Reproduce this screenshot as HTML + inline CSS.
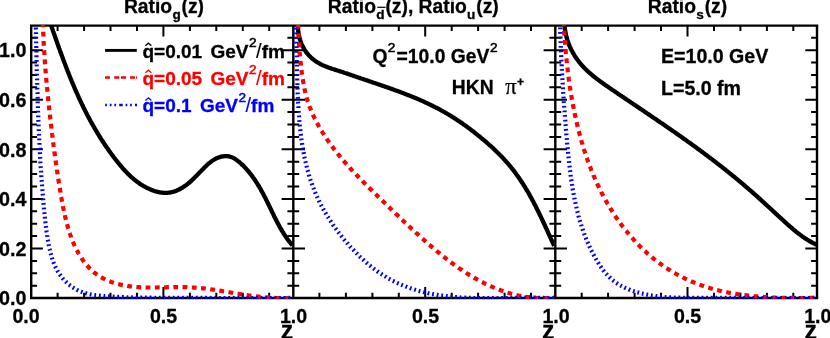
<!DOCTYPE html>
<html><head><meta charset="utf-8"><title>Ratio plots</title>
<style>html,body{margin:0;padding:0;background:#fff}body{width:830px;height:338px;overflow:hidden}svg{display:block;will-change:transform}text{font-family:"Liberation Sans",sans-serif;font-weight:bold;font-size:19.3px;fill:#000;stroke:#000;stroke-width:0.3px}.sy{font-family:"Liberation Serif",serif;font-weight:normal}</style>
</head><body>
<svg width="830" height="338" viewBox="0 0 830 338">
<rect x="0" y="0" width="830" height="338" fill="#fff"/>
<defs>
<clipPath id="cp0"><rect x="30.6" y="25.1" width="261.5" height="273.9"/></clipPath>
<clipPath id="cp1"><rect x="292.7" y="25.1" width="261.4" height="273.9"/></clipPath>
<clipPath id="cp2"><rect x="554.7" y="25.1" width="263.0" height="273.9"/></clipPath>
</defs>
<g stroke="#000" stroke-width="2.4" fill="none" stroke-linecap="butt">
<path d="M30.0 25.6 H818.2 M30.0 298.0 H818.2"/>
<path d="M31.2 25.6 V298.0"/>
<path d="M293.3 25.6 V298.0"/>
<path d="M555.3 25.6 V298.0"/>
<path d="M817.0 25.6 V298.0"/>
</g>
<g stroke="#000" stroke-width="2.0" fill="none">
<path d="M57.6 25.6 v5.3 M57.6 298.0 v-5.3 M84.1 25.6 v5.3 M84.1 298.0 v-5.3 M110.5 25.6 v5.3 M110.5 298.0 v-5.3 M137.0 25.6 v5.3 M137.0 298.0 v-5.3 M163.4 25.6 v11.0 M163.4 298.0 v-11.0 M189.9 25.6 v5.3 M189.9 298.0 v-5.3 M216.3 25.6 v5.3 M216.3 298.0 v-5.3 M242.8 25.6 v5.3 M242.8 298.0 v-5.3 M269.2 25.6 v5.3 M269.2 298.0 v-5.3 M319.4 25.6 v5.3 M319.4 298.0 v-5.3 M345.9 25.6 v5.3 M345.9 298.0 v-5.3 M372.4 25.6 v5.3 M372.4 298.0 v-5.3 M398.8 25.6 v5.3 M398.8 298.0 v-5.3 M425.2 25.6 v11.0 M425.2 298.0 v-11.0 M451.7 25.6 v5.3 M451.7 298.0 v-5.3 M478.1 25.6 v5.3 M478.1 298.0 v-5.3 M504.6 25.6 v5.3 M504.6 298.0 v-5.3 M531.0 25.6 v5.3 M531.0 298.0 v-5.3 M581.7 25.6 v5.3 M581.7 298.0 v-5.3 M608.1 25.6 v5.3 M608.1 298.0 v-5.3 M634.6 25.6 v5.3 M634.6 298.0 v-5.3 M661.0 25.6 v5.3 M661.0 298.0 v-5.3 M687.5 25.6 v11.0 M687.5 298.0 v-11.0 M714.0 25.6 v5.3 M714.0 298.0 v-5.3 M740.4 25.6 v5.3 M740.4 298.0 v-5.3 M766.9 25.6 v5.3 M766.9 298.0 v-5.3 M793.3 25.6 v5.3 M793.3 298.0 v-5.3 M31.2 285.7 h5.9 M287.4 285.7 h11.8 M549.4 285.7 h11.8 M817.0 285.7 h-5.9 M31.2 273.3 h5.9 M287.4 273.3 h11.8 M549.4 273.3 h11.8 M817.0 273.3 h-5.9 M31.2 260.9 h5.9 M287.4 260.9 h11.8 M549.4 260.9 h11.8 M817.0 260.9 h-5.9 M31.2 248.5 h11.7 M281.6 248.5 h23.4 M543.6 248.5 h23.4 M817.0 248.5 h-11.7 M31.2 236.1 h5.9 M287.4 236.1 h11.8 M549.4 236.1 h11.8 M817.0 236.1 h-5.9 M31.2 223.7 h5.9 M287.4 223.7 h11.8 M549.4 223.7 h11.8 M817.0 223.7 h-5.9 M31.2 211.3 h5.9 M287.4 211.3 h11.8 M549.4 211.3 h11.8 M817.0 211.3 h-5.9 M31.2 198.9 h11.7 M281.6 198.9 h23.4 M543.6 198.9 h23.4 M817.0 198.9 h-11.7 M31.2 186.5 h5.9 M287.4 186.5 h11.8 M549.4 186.5 h11.8 M817.0 186.5 h-5.9 M31.2 174.1 h5.9 M287.4 174.1 h11.8 M549.4 174.1 h11.8 M817.0 174.1 h-5.9 M31.2 161.7 h5.9 M287.4 161.7 h11.8 M549.4 161.7 h11.8 M817.0 161.7 h-5.9 M31.2 149.3 h11.7 M281.6 149.3 h23.4 M543.6 149.3 h23.4 M817.0 149.3 h-11.7 M31.2 136.9 h5.9 M287.4 136.9 h11.8 M549.4 136.9 h11.8 M817.0 136.9 h-5.9 M31.2 124.5 h5.9 M287.4 124.5 h11.8 M549.4 124.5 h11.8 M817.0 124.5 h-5.9 M31.2 112.1 h5.9 M287.4 112.1 h11.8 M549.4 112.1 h11.8 M817.0 112.1 h-5.9 M31.2 99.7 h11.7 M281.6 99.7 h23.4 M543.6 99.7 h23.4 M817.0 99.7 h-11.7 M31.2 87.3 h5.9 M287.4 87.3 h11.8 M549.4 87.3 h11.8 M817.0 87.3 h-5.9 M31.2 74.9 h5.9 M287.4 74.9 h11.8 M549.4 74.9 h11.8 M817.0 74.9 h-5.9 M31.2 62.5 h5.9 M287.4 62.5 h11.8 M549.4 62.5 h11.8 M817.0 62.5 h-5.9 M31.2 50.2 h11.7 M281.6 50.2 h23.4 M543.6 50.2 h23.4 M817.0 50.2 h-11.7 M31.2 37.8 h5.9 M287.4 37.8 h11.8 M549.4 37.8 h11.8 M817.0 37.8 h-5.9"/>
</g>
<g clip-path="url(#cp0)" fill="none" stroke-linejoin="round">
<path d="M50.0 22.0 L50.3 23.0 L50.6 23.9 L51.0 24.9 L51.3 25.8 L51.6 26.8 L51.9 27.7 L52.3 28.7 L52.6 29.6 L52.9 30.6 L53.2 31.5 L53.6 32.4 L53.9 33.4 L54.2 34.3 L54.6 35.3 L54.9 36.2 L55.2 37.2 L55.5 38.1 L55.9 39.1 L56.2 40.0 L56.5 41.0 L56.9 41.9 L57.2 42.8 L57.5 43.8 L57.9 44.7 L58.2 45.7 L58.5 46.6 L58.9 47.6 L59.2 48.5 L59.6 49.4 L59.9 50.4 L60.2 51.3 L60.6 52.3 L60.9 53.2 L61.3 54.1 L61.6 55.1 L62.0 56.0 L62.3 57.0 L62.7 57.9 L63.0 58.8 L63.3 59.8 L63.7 60.7 L64.0 61.7 L64.4 62.6 L64.8 63.5 L65.1 64.5 L65.5 65.4 L65.8 66.3 L66.2 67.3 L66.5 68.2 L66.9 69.1 L67.3 70.1 L67.6 71.0 L68.0 71.9 L68.4 72.9 L68.7 73.8 L69.1 74.7 L69.5 75.7 L69.8 76.6 L70.2 77.5 L70.6 78.4 L71.0 79.4 L71.4 80.3 L71.7 81.2 L72.1 82.2 L72.5 83.1 L72.9 84.0 L73.3 84.9 L73.7 85.8 L74.1 86.8 L74.5 87.7 L74.8 88.6 L75.2 89.5 L75.6 90.4 L76.0 91.4 L76.5 92.3 L76.9 93.2 L77.3 94.1 L77.7 95.0 L78.1 95.9 L78.5 96.8 L78.9 97.8 L79.3 98.7 L79.7 99.6 L80.2 100.5 L80.6 101.4 L81.0 102.3 L81.5 103.2 L81.9 104.1 L82.3 105.0 L82.8 105.9 L83.2 106.8 L83.6 107.7 L84.1 108.6 L84.5 109.5 L85.0 110.4 L85.4 111.3 L85.9 112.2 L86.3 113.1 L86.8 114.0 L87.2 114.9 L87.7 115.7 L88.2 116.6 L88.6 117.5 L89.1 118.4 L89.6 119.3 L90.1 120.2 L90.5 121.0 L91.0 121.9 L91.5 122.8 L92.0 123.7 L92.5 124.5 L93.0 125.4 L93.5 126.3 L94.0 127.2 L94.5 128.0 L95.0 128.9 L95.5 129.7 L96.0 130.6 L96.5 131.5 L97.0 132.3 L97.5 133.2 L98.1 134.0 L98.6 134.9 L99.1 135.7 L99.6 136.6 L100.2 137.4 L100.7 138.3 L101.2 139.1 L101.8 140.0 L102.3 140.8 L102.9 141.7 L103.4 142.5 L104.0 143.3 L104.5 144.2 L105.1 145.0 L105.6 145.8 L106.2 146.6 L106.8 147.5 L107.4 148.3 L107.9 149.1 L108.5 149.9 L109.1 150.8 L109.7 151.6 L110.2 152.4 L110.8 153.2 L111.4 154.0 L112.0 154.8 L112.6 155.6 L113.2 156.4 L113.8 157.2 L114.4 158.0 L115.0 158.8 L115.6 159.6 L116.3 160.4 L116.9 161.2 L117.5 162.0 L118.1 162.7 L118.8 163.5 L119.4 164.3 L120.0 165.1 L120.7 165.8 L121.3 166.6 L122.0 167.3 L122.6 168.1 L123.3 168.9 L124.0 169.6 L124.6 170.3 L125.3 171.1 L126.0 171.8 L126.7 172.5 L127.4 173.2 L128.1 173.9 L128.8 174.7 L129.5 175.3 L130.3 176.0 L131.0 176.7 L131.7 177.4 L132.5 178.0 L133.3 178.7 L134.0 179.3 L134.8 180.0 L135.6 180.6 L136.4 181.2 L137.2 181.8 L138.0 182.4 L138.8 183.0 L139.6 183.6 L140.4 184.1 L141.3 184.7 L142.1 185.2 L143.0 185.7 L143.8 186.2 L144.7 186.7 L145.6 187.2 L146.5 187.7 L147.4 188.1 L148.3 188.5 L149.2 188.9 L150.1 189.3 L151.0 189.7 L152.0 190.1 L152.9 190.4 L153.9 190.8 L154.8 191.1 L155.8 191.4 L156.7 191.6 L157.7 191.9 L158.7 192.1 L159.7 192.3 L160.7 192.5 L161.6 192.6 L162.6 192.7 L163.6 192.8 L164.6 192.9 L165.6 192.9 L166.6 192.9 L167.6 192.8 L168.6 192.7 L169.6 192.6 L170.6 192.4 L171.6 192.2 L172.6 192.0 L173.5 191.7 L174.5 191.4 L175.4 191.1 L176.4 190.7 L177.3 190.3 L178.2 189.9 L179.1 189.5 L180.0 189.0 L180.9 188.5 L181.7 188.0 L182.6 187.5 L183.4 187.0 L184.3 186.4 L185.1 185.8 L185.9 185.3 L186.7 184.7 L187.5 184.0 L188.3 183.4 L189.0 182.8 L189.8 182.1 L190.5 181.5 L191.3 180.8 L192.0 180.1 L192.8 179.4 L193.5 178.7 L194.2 178.0 L194.9 177.3 L195.6 176.6 L196.3 175.9 L197.0 175.2 L197.7 174.5 L198.4 173.8 L199.1 173.0 L199.8 172.3 L200.5 171.6 L201.2 170.9 L201.9 170.1 L202.6 169.4 L203.3 168.7 L204.0 168.0 L204.7 167.3 L205.4 166.6 L206.1 165.9 L206.8 165.2 L207.6 164.5 L208.3 163.9 L209.1 163.2 L209.9 162.6 L210.7 162.0 L211.5 161.4 L212.3 160.8 L213.1 160.3 L214.0 159.7 L214.8 159.2 L215.7 158.7 L216.6 158.3 L217.5 157.9 L218.5 157.5 L219.4 157.2 L220.4 156.9 L221.3 156.6 L222.3 156.4 L223.3 156.3 L224.3 156.1 L225.3 156.1 L226.3 156.1 L227.3 156.1 L228.3 156.3 L229.3 156.4 L230.2 156.7 L231.2 157.0 L232.1 157.4 L233.0 157.8 L233.9 158.2 L234.8 158.8 L235.6 159.3 L236.4 159.9 L237.2 160.5 L238.0 161.1 L238.8 161.7 L239.6 162.3 L240.3 163.0 L241.1 163.7 L241.8 164.4 L242.5 165.0 L243.3 165.7 L244.0 166.5 L244.7 167.2 L245.4 167.9 L246.0 168.6 L246.7 169.4 L247.4 170.1 L248.0 170.9 L248.7 171.6 L249.3 172.4 L249.9 173.2 L250.5 174.0 L251.2 174.8 L251.8 175.6 L252.4 176.4 L252.9 177.2 L253.5 178.0 L254.1 178.8 L254.7 179.7 L255.2 180.5 L255.8 181.3 L256.3 182.2 L256.9 183.0 L257.4 183.9 L257.9 184.7 L258.4 185.6 L259.0 186.4 L259.5 187.3 L260.0 188.1 L260.5 189.0 L261.0 189.9 L261.4 190.8 L261.9 191.6 L262.4 192.5 L262.9 193.4 L263.4 194.3 L263.8 195.2 L264.3 196.1 L264.7 196.9 L265.2 197.8 L265.7 198.7 L266.1 199.6 L266.6 200.5 L267.0 201.4 L267.4 202.3 L267.9 203.2 L268.3 204.1 L268.8 205.0 L269.2 205.9 L269.6 206.8 L270.1 207.7 L270.5 208.6 L270.9 209.5 L271.4 210.4 L271.8 211.3 L272.2 212.2 L272.7 213.1 L273.1 214.0 L273.6 214.9 L274.0 215.8 L274.4 216.7 L274.9 217.6 L275.3 218.5 L275.8 219.4 L276.2 220.3 L276.7 221.2 L277.2 222.1 L277.6 223.0 L278.1 223.8 L278.6 224.7 L279.0 225.6 L279.5 226.5 L280.0 227.4 L280.5 228.2 L281.0 229.1 L281.5 230.0 L282.0 230.8 L282.5 231.7 L283.1 232.5 L283.6 233.4 L284.1 234.2 L284.7 235.1 L285.2 235.9 L285.8 236.7 L286.4 237.6 L286.9 238.4 L287.5 239.2 L288.1 240.0 L288.7 240.8 L289.3 241.6 L290.0 242.4 L290.6 243.1 L291.2 243.9 L291.9 244.7 L292.5 245.4" stroke="#000" stroke-width="4.3"/>
<path d="M42.9 22.1 L42.9 23.1 L43.0 24.1 L43.0 25.1 L43.0 26.1 L43.1 27.1 L43.1 28.1 L43.1 29.1 L43.2 30.1 L43.2 31.1 L43.2 32.1 L43.3 33.1 L43.3 34.1 L43.4 35.1 L43.4 36.1 L43.4 37.1 L43.5 38.1 L43.5 39.1 L43.6 40.1 L43.6 41.1 L43.7 42.1 L43.7 43.1 L43.8 44.1 L43.8 45.1 L43.9 46.1 L43.9 47.1 L44.0 48.1 L44.1 49.1 L44.1 50.1 L44.2 51.1 L44.2 52.1 L44.3 53.1 L44.4 54.1 L44.4 55.1 L44.5 56.1 L44.6 57.1 L44.6 58.1 L44.7 59.1 L44.8 60.1 L44.8 61.1 L44.9 62.1 L45.0 63.1 L45.0 64.1 L45.1 65.1 L45.2 66.1 L45.3 67.1 L45.3 68.1 L45.4 69.1 L45.5 70.1 L45.6 71.1 L45.7 72.1 L45.7 73.1 L45.8 74.1 L45.9 75.1 L46.0 76.1 L46.1 77.1 L46.2 78.1 L46.3 79.1 L46.3 80.1 L46.4 81.1 L46.5 82.1 L46.6 83.1 L46.7 84.1 L46.8 85.1 L46.9 86.1 L47.0 87.1 L47.1 88.0 L47.2 89.0 L47.3 90.0 L47.4 91.0 L47.5 92.0 L47.6 93.0 L47.7 94.0 L47.8 95.0 L47.9 96.0 L48.0 97.0 L48.1 98.0 L48.2 99.0 L48.3 100.0 L48.4 101.0 L48.5 102.0 L48.6 103.0 L48.7 104.0 L48.8 105.0 L48.9 106.0 L49.0 107.0 L49.1 108.0 L49.2 109.0 L49.3 110.0 L49.4 111.0 L49.5 112.0 L49.7 113.0 L49.8 114.0 L49.9 114.9 L50.0 115.9 L50.1 116.9 L50.2 117.9 L50.3 118.9 L50.5 119.9 L50.6 120.9 L50.7 121.9 L50.8 122.9 L50.9 123.9 L51.0 124.9 L51.2 125.9 L51.3 126.9 L51.4 127.9 L51.5 128.9 L51.6 129.9 L51.8 130.9 L51.9 131.9 L52.0 132.9 L52.1 133.8 L52.2 134.8 L52.4 135.8 L52.5 136.8 L52.6 137.8 L52.7 138.8 L52.9 139.8 L53.0 140.8 L53.1 141.8 L53.2 142.8 L53.4 143.8 L53.5 144.8 L53.6 145.8 L53.8 146.8 L53.9 147.8 L54.0 148.8 L54.1 149.7 L54.3 150.7 L54.4 151.7 L54.5 152.7 L54.7 153.7 L54.8 154.7 L54.9 155.7 L55.1 156.7 L55.2 157.7 L55.3 158.7 L55.5 159.7 L55.6 160.7 L55.8 161.7 L55.9 162.7 L56.0 163.6 L56.2 164.6 L56.3 165.6 L56.5 166.6 L56.6 167.6 L56.7 168.6 L56.9 169.6 L57.0 170.6 L57.2 171.6 L57.3 172.6 L57.5 173.6 L57.6 174.6 L57.8 175.5 L57.9 176.5 L58.1 177.5 L58.2 178.5 L58.4 179.5 L58.5 180.5 L58.7 181.5 L58.8 182.5 L59.0 183.5 L59.2 184.4 L59.3 185.4 L59.5 186.4 L59.6 187.4 L59.8 188.4 L60.0 189.4 L60.1 190.4 L60.3 191.4 L60.5 192.4 L60.6 193.3 L60.8 194.3 L61.0 195.3 L61.1 196.3 L61.3 197.3 L61.5 198.3 L61.7 199.3 L61.8 200.3 L62.0 201.2 L62.2 202.2 L62.4 203.2 L62.6 204.2 L62.8 205.2 L62.9 206.2 L63.1 207.1 L63.3 208.1 L63.5 209.1 L63.7 210.1 L63.9 211.1 L64.1 212.1 L64.3 213.0 L64.5 214.0 L64.8 215.0 L65.0 216.0 L65.2 216.9 L65.4 217.9 L65.7 218.9 L65.9 219.9 L66.1 220.8 L66.4 221.8 L66.6 222.8 L66.9 223.7 L67.2 224.7 L67.4 225.7 L67.7 226.6 L68.0 227.6 L68.3 228.6 L68.6 229.5 L68.8 230.5 L69.1 231.4 L69.5 232.4 L69.8 233.3 L70.1 234.3 L70.4 235.2 L70.8 236.2 L71.1 237.1 L71.4 238.1 L71.8 239.0 L72.2 239.9 L72.5 240.9 L72.9 241.8 L73.3 242.7 L73.7 243.6 L74.1 244.5 L74.5 245.5 L74.9 246.4 L75.4 247.3 L75.8 248.2 L76.3 249.1 L76.7 250.0 L77.2 250.8 L77.7 251.7 L78.1 252.6 L78.6 253.5 L79.1 254.3 L79.7 255.2 L80.2 256.1 L80.7 256.9 L81.3 257.8 L81.8 258.6 L82.4 259.4 L82.9 260.2 L83.5 261.0 L84.1 261.9 L84.7 262.7 L85.3 263.4 L86.0 264.2 L86.6 265.0 L87.3 265.7 L87.9 266.5 L88.6 267.2 L89.3 268.0 L90.0 268.7 L90.7 269.4 L91.4 270.1 L92.2 270.8 L92.9 271.4 L93.7 272.1 L94.5 272.7 L95.2 273.3 L96.0 273.9 L96.8 274.5 L97.7 275.1 L98.5 275.7 L99.3 276.2 L100.2 276.7 L101.1 277.2 L101.9 277.7 L102.8 278.2 L103.7 278.7 L104.6 279.1 L105.5 279.6 L106.4 280.0 L107.3 280.4 L108.2 280.8 L109.2 281.2 L110.1 281.5 L111.0 281.9 L112.0 282.2 L112.9 282.5 L113.9 282.8 L114.8 283.1 L115.8 283.4 L116.8 283.7 L117.7 284.0 L118.7 284.2 L119.7 284.4 L120.6 284.7 L121.6 284.9 L122.6 285.1 L123.6 285.3 L124.6 285.5 L125.6 285.7 L126.5 285.8 L127.5 286.0 L128.5 286.1 L129.5 286.3 L130.5 286.4 L131.5 286.5 L132.5 286.6 L133.5 286.7 L134.5 286.8 L135.5 286.9 L136.5 287.0 L137.5 287.1 L138.5 287.1 L139.5 287.2 L140.5 287.3 L141.5 287.3 L142.5 287.3 L143.5 287.4 L144.5 287.4 L145.5 287.4 L146.5 287.5 L147.5 287.5 L148.5 287.5 L149.5 287.5 L150.5 287.5 L151.5 287.5 L152.5 287.5 L153.5 287.5 L154.5 287.5 L155.5 287.5 L156.5 287.5 L157.5 287.5 L158.5 287.4 L159.5 287.4 L160.5 287.4 L161.5 287.4 L162.5 287.4 L163.5 287.3 L164.5 287.3 L165.5 287.3 L166.5 287.3 L167.5 287.2 L168.5 287.2 L169.5 287.2 L170.5 287.2 L171.5 287.2 L172.5 287.2 L173.5 287.1 L174.5 287.1 L175.5 287.1 L176.5 287.1 L177.5 287.1 L178.5 287.1 L179.6 287.1 L180.6 287.1 L181.6 287.1 L182.6 287.1 L183.6 287.2 L184.6 287.2 L185.6 287.2 L186.6 287.2 L187.6 287.3 L188.6 287.3 L189.6 287.4 L190.6 287.4 L191.6 287.5 L192.6 287.5 L193.6 287.6 L194.6 287.6 L195.6 287.7 L196.6 287.8 L197.6 287.9 L198.6 288.0 L199.6 288.0 L200.6 288.1 L201.6 288.2 L202.5 288.3 L203.5 288.4 L204.5 288.5 L205.5 288.6 L206.5 288.8 L207.5 288.9 L208.5 289.0 L209.5 289.1 L210.5 289.3 L211.5 289.4 L212.5 289.5 L213.5 289.7 L214.5 289.8 L215.5 290.0 L216.5 290.1 L217.4 290.3 L218.4 290.5 L219.4 290.6 L220.4 290.8 L221.4 290.9 L222.4 291.1 L223.4 291.3 L224.4 291.4 L225.3 291.6 L226.3 291.8 L227.3 292.0 L228.3 292.1 L229.3 292.3 L230.3 292.5 L231.3 292.6 L232.3 292.8 L233.2 293.0 L234.2 293.2 L235.2 293.3 L236.2 293.5 L237.2 293.7 L238.2 293.8 L239.2 294.0 L240.2 294.1 L241.1 294.3 L242.1 294.5 L243.1 294.6 L244.1 294.8 L245.1 294.9 L246.1 295.1 L247.1 295.2 L248.1 295.3 L249.1 295.5 L250.1 295.6 L251.1 295.8 L252.1 295.9 L253.0 296.0 L254.0 296.1 L255.0 296.3 L256.0 296.4 L257.0 296.5 L258.0 296.6 L259.0 296.7 L260.0 296.8 L261.0 296.9 L262.0 297.0 L263.0 297.1 L264.0 297.2 L265.0 297.3 L266.0 297.4 L267.0 297.4 L268.0 297.5 L269.0 297.6 L270.0 297.7 L271.0 297.7 L272.0 297.8 L273.0 297.8 L274.0 297.9 L275.0 297.9 L276.0 298.0 L277.0 298.0 L278.0 298.0 L279.0 298.0 L280.0 298.1 L281.0 298.1 L282.0 298.1 L283.0 298.1 L284.0 298.1 L285.0 298.1 L286.0 298.1 L287.0 298.1 L288.0 298.0 L289.0 298.0 L290.0 298.0 L291.0 297.9 L292.0 297.9 L293.0 297.8 L294.0 297.8" stroke="#ff0000" stroke-width="4.2" stroke-dasharray="4.8 4.45" stroke-dashoffset="-0.4"/>
<path d="M35.8 22.0 L35.8 23.0 L35.8 24.0 L35.9 25.0 L35.9 26.0 L35.9 27.0 L35.9 28.0 L35.9 29.0 L36.0 30.0 L36.0 31.0 L36.0 32.0 L36.0 33.0 L36.0 34.0 L36.1 35.0 L36.1 36.0 L36.1 37.0 L36.1 38.0 L36.1 39.0 L36.2 40.0 L36.2 41.0 L36.2 42.0 L36.2 43.0 L36.2 44.0 L36.3 45.0 L36.3 46.0 L36.3 47.0 L36.3 48.0 L36.4 49.0 L36.4 50.0 L36.4 51.0 L36.4 52.0 L36.4 53.0 L36.5 54.0 L36.5 55.0 L36.5 56.0 L36.5 57.0 L36.5 58.0 L36.6 59.0 L36.6 60.0 L36.6 61.0 L36.6 62.0 L36.7 63.0 L36.7 64.0 L36.7 65.0 L36.7 66.0 L36.8 67.0 L36.8 68.0 L36.8 69.0 L36.8 70.0 L36.9 71.0 L36.9 72.0 L36.9 73.0 L36.9 74.0 L37.0 75.0 L37.0 76.0 L37.0 77.0 L37.0 78.0 L37.1 79.0 L37.1 80.0 L37.1 81.0 L37.1 82.0 L37.2 83.0 L37.2 84.0 L37.2 85.0 L37.3 86.0 L37.3 87.0 L37.3 88.0 L37.3 89.0 L37.4 90.0 L37.4 91.0 L37.4 92.0 L37.5 93.0 L37.5 94.0 L37.5 95.0 L37.5 96.0 L37.6 97.0 L37.6 98.0 L37.6 99.0 L37.7 100.0 L37.7 101.0 L37.7 102.0 L37.8 103.1 L37.8 104.1 L37.8 105.1 L37.9 106.1 L37.9 107.1 L37.9 108.1 L38.0 109.1 L38.0 110.1 L38.0 111.1 L38.1 112.1 L38.1 113.1 L38.2 114.1 L38.2 115.1 L38.2 116.1 L38.3 117.1 L38.3 118.1 L38.3 119.1 L38.4 120.1 L38.4 121.1 L38.5 122.1 L38.5 123.1 L38.5 124.1 L38.6 125.1 L38.6 126.1 L38.7 127.1 L38.7 128.1 L38.8 129.1 L38.8 130.1 L38.8 131.1 L38.9 132.1 L38.9 133.1 L39.0 134.1 L39.0 135.1 L39.1 136.1 L39.1 137.1 L39.2 138.1 L39.2 139.1 L39.3 140.1 L39.3 141.1 L39.4 142.1 L39.4 143.1 L39.5 144.1 L39.5 145.1 L39.6 146.1 L39.6 147.1 L39.7 148.1 L39.7 149.1 L39.8 150.1 L39.8 151.1 L39.9 152.1 L39.9 153.1 L40.0 154.1 L40.0 155.1 L40.1 156.1 L40.1 157.1 L40.2 158.0 L40.3 159.0 L40.3 160.0 L40.4 161.0 L40.4 162.0 L40.5 163.0 L40.6 164.0 L40.6 165.0 L40.7 166.0 L40.7 167.0 L40.8 168.0 L40.9 169.0 L40.9 170.0 L41.0 171.0 L41.1 172.0 L41.1 173.0 L41.2 174.0 L41.3 175.0 L41.3 176.0 L41.4 177.0 L41.5 178.0 L41.5 179.0 L41.6 180.0 L41.7 181.0 L41.8 182.0 L41.8 183.0 L41.9 184.0 L42.0 185.0 L42.1 186.0 L42.1 187.0 L42.2 188.0 L42.3 189.0 L42.4 190.0 L42.5 191.0 L42.5 192.0 L42.6 193.0 L42.7 194.0 L42.8 195.0 L42.9 196.0 L42.9 197.0 L43.0 198.0 L43.1 199.0 L43.2 200.0 L43.3 201.0 L43.4 202.0 L43.5 203.0 L43.6 204.0 L43.7 205.0 L43.7 206.0 L43.8 207.0 L43.9 208.0 L44.0 209.0 L44.1 209.9 L44.2 210.9 L44.3 211.9 L44.4 212.9 L44.5 213.9 L44.6 214.9 L44.7 215.9 L44.8 216.9 L44.9 217.9 L45.0 218.9 L45.2 219.9 L45.3 220.9 L45.4 221.9 L45.5 222.9 L45.6 223.9 L45.7 224.9 L45.9 225.9 L46.0 226.9 L46.1 227.9 L46.2 228.8 L46.4 229.8 L46.5 230.8 L46.6 231.8 L46.8 232.8 L46.9 233.8 L47.1 234.8 L47.2 235.8 L47.4 236.8 L47.5 237.8 L47.7 238.8 L47.9 239.7 L48.0 240.7 L48.2 241.7 L48.4 242.7 L48.6 243.7 L48.7 244.7 L48.9 245.6 L49.1 246.6 L49.3 247.6 L49.5 248.6 L49.8 249.6 L50.0 250.5 L50.2 251.5 L50.4 252.5 L50.7 253.5 L50.9 254.4 L51.2 255.4 L51.5 256.4 L51.8 257.3 L52.1 258.3 L52.4 259.2 L52.7 260.2 L53.0 261.1 L53.4 262.1 L53.7 263.0 L54.1 263.9 L54.5 264.8 L54.9 265.8 L55.3 266.7 L55.7 267.6 L56.2 268.5 L56.6 269.4 L57.1 270.2 L57.6 271.1 L58.1 272.0 L58.7 272.8 L59.2 273.7 L59.8 274.5 L60.3 275.3 L60.9 276.1 L61.5 276.9 L62.2 277.7 L62.8 278.5 L63.4 279.2 L64.1 280.0 L64.8 280.7 L65.5 281.4 L66.2 282.1 L66.9 282.8 L67.7 283.5 L68.4 284.2 L69.2 284.8 L70.0 285.4 L70.8 286.0 L71.6 286.6 L72.4 287.2 L73.2 287.7 L74.1 288.3 L74.9 288.8 L75.8 289.3 L76.7 289.8 L77.6 290.2 L78.5 290.6 L79.4 291.0 L80.3 291.4 L81.3 291.8 L82.2 292.1 L83.1 292.5 L84.1 292.8 L85.1 293.1 L86.0 293.3 L87.0 293.6 L88.0 293.8 L88.9 294.1 L89.9 294.3 L90.9 294.5 L91.9 294.7 L92.9 294.8 L93.8 295.0 L94.8 295.1 L95.8 295.3 L96.8 295.4 L97.8 295.5 L98.8 295.6 L99.8 295.7 L100.8 295.8 L101.8 295.9 L102.8 296.0 L103.8 296.1 L104.8 296.2 L105.8 296.2 L106.8 296.3 L107.8 296.4 L108.8 296.4 L109.8 296.5 L110.8 296.6 L111.8 296.6 L112.8 296.7 L113.8 296.7 L114.8 296.8 L115.8 296.8 L116.8 296.9 L117.8 296.9 L118.8 297.0 L119.8 297.0 L120.8 297.1 L121.8 297.1 L122.8 297.1 L123.8 297.2 L124.8 297.2 L125.8 297.2 L126.8 297.3 L127.8 297.3 L128.8 297.3 L129.8 297.4 L130.8 297.4 L131.8 297.4 L132.8 297.5 L133.8 297.5 L134.8 297.5 L135.8 297.5 L136.8 297.5 L137.8 297.6 L138.8 297.6 L139.8 297.6 L140.8 297.6 L141.8 297.6 L142.8 297.6 L143.8 297.7 L144.8 297.7 L145.8 297.7 L146.8 297.7 L147.8 297.7 L148.8 297.7 L149.8 297.7 L150.8 297.7 L151.8 297.7 L152.8 297.7 L153.8 297.7 L154.8 297.8 L155.8 297.8 L156.8 297.8 L157.8 297.8 L158.8 297.8 L159.8 297.8 L160.8 297.8 L161.8 297.8 L162.8 297.8 L163.8 297.8 L164.8 297.8 L165.8 297.8 L166.8 297.8 L167.8 297.8 L168.8 297.8 L169.8 297.8 L170.8 297.8 L171.8 297.8 L172.8 297.8 L173.8 297.8 L174.8 297.8 L175.8 297.8 L176.8 297.8 L177.8 297.8 L178.8 297.8 L179.8 297.8 L180.8 297.8 L181.8 297.8 L182.8 297.8 L183.8 297.8 L184.8 297.8 L185.8 297.9 L186.8 297.9 L187.8 297.9 L188.8 297.9 L189.8 297.9 L190.8 297.9 L191.8 297.9 L192.8 297.9 L193.8 297.9 L194.8 297.9 L195.8 297.9 L196.8 297.9 L197.8 297.9 L198.9 297.9 L199.9 297.9 L200.9 297.9 L201.9 297.9 L202.9 297.9 L203.9 297.9 L204.9 297.9 L205.9 297.9 L206.9 297.9 L207.9 297.9 L208.9 297.9 L209.9 297.9 L210.9 298.0 L211.9 298.0 L212.9 298.0 L213.9 298.0 L214.9 298.0 L215.9 298.0 L216.9 298.0 L217.9 298.0 L218.9 298.0 L219.9 298.0 L220.9 298.0 L221.9 298.0 L222.9 298.0 L223.9 298.0 L224.9 298.0 L225.9 298.0 L226.9 298.0 L227.9 298.0 L228.9 298.0 L229.9 298.0 L230.9 298.0 L231.9 298.0 L232.9 298.0 L233.9 298.0 L234.9 298.0 L235.9 298.0 L236.9 298.0 L237.9 298.0 L238.9 298.0 L239.9 298.1 L240.9 298.1 L241.9 298.1 L242.9 298.1 L243.9 298.1 L244.9 298.1 L245.9 298.1 L246.9 298.1 L247.9 298.1 L248.9 298.1 L249.9 298.1 L250.9 298.1 L251.9 298.1 L252.9 298.1 L253.9 298.1 L254.9 298.1 L255.9 298.1 L256.9 298.1 L257.9 298.1 L258.9 298.1 L259.9 298.1 L260.9 298.1 L261.9 298.1 L262.9 298.1 L263.9 298.1 L264.9 298.1 L265.9 298.1 L266.9 298.1 L267.9 298.0 L268.9 298.0 L269.9 298.0 L270.9 298.0 L271.9 298.0 L272.9 298.0 L273.9 298.0 L274.9 298.0 L275.9 298.0 L276.9 298.0 L277.9 298.0 L278.9 298.0 L279.9 298.0 L280.9 298.0 L281.9 298.0 L282.9 298.0 L283.9 298.0 L284.9 298.0 L285.9 298.0 L286.9 298.0 L287.9 297.9 L288.9 297.9 L289.9 297.9 L290.9 297.9 L291.9 297.9 L292.9 297.9 L293.9 297.9" stroke="#0000ff" stroke-width="4.2" stroke-dasharray="1.8 2.825" stroke-dashoffset="-1.0"/>
</g>
<g clip-path="url(#cp1)" fill="none" stroke-linejoin="round">
<path d="M297.6 21.7 L297.6 22.7 L297.6 23.7 L297.7 24.7 L297.7 25.7 L297.8 26.7 L297.9 27.7 L298.0 28.7 L298.1 29.7 L298.2 30.7 L298.3 31.7 L298.5 32.7 L298.6 33.7 L298.8 34.7 L299.0 35.7 L299.2 36.6 L299.5 37.6 L299.7 38.6 L300.0 39.6 L300.3 40.5 L300.6 41.5 L301.0 42.4 L301.3 43.3 L301.7 44.3 L302.1 45.2 L302.5 46.1 L303.0 47.0 L303.5 47.9 L304.0 48.7 L304.5 49.6 L305.0 50.4 L305.6 51.3 L306.2 52.1 L306.8 52.9 L307.4 53.7 L308.0 54.4 L308.7 55.2 L309.4 55.9 L310.1 56.6 L310.8 57.3 L311.6 58.0 L312.3 58.7 L313.1 59.3 L313.9 59.9 L314.7 60.5 L315.5 61.1 L316.3 61.7 L317.2 62.2 L318.0 62.7 L318.9 63.2 L319.8 63.7 L320.6 64.2 L321.5 64.6 L322.5 65.1 L323.4 65.5 L324.3 65.9 L325.2 66.3 L326.1 66.6 L327.1 67.0 L328.0 67.4 L329.0 67.7 L329.9 68.0 L330.8 68.4 L331.8 68.7 L332.7 69.0 L333.7 69.3 L334.7 69.6 L335.6 69.9 L336.6 70.2 L337.5 70.5 L338.5 70.8 L339.4 71.1 L340.4 71.4 L341.3 71.7 L342.3 72.0 L343.2 72.3 L344.2 72.7 L345.1 73.0 L346.1 73.3 L347.1 73.6 L348.0 73.9 L348.9 74.3 L349.9 74.6 L350.8 74.9 L351.8 75.2 L352.7 75.5 L353.7 75.9 L354.6 76.2 L355.6 76.5 L356.5 76.9 L357.5 77.2 L358.4 77.5 L359.4 77.8 L360.3 78.2 L361.3 78.5 L362.2 78.8 L363.2 79.1 L364.1 79.5 L365.1 79.8 L366.0 80.1 L367.0 80.4 L367.9 80.7 L368.9 81.1 L369.8 81.4 L370.8 81.7 L371.7 82.0 L372.7 82.4 L373.6 82.7 L374.6 83.0 L375.5 83.3 L376.5 83.6 L377.4 84.0 L378.4 84.3 L379.3 84.6 L380.3 84.9 L381.2 85.3 L382.1 85.6 L383.1 85.9 L384.0 86.2 L385.0 86.6 L385.9 86.9 L386.9 87.2 L387.8 87.6 L388.8 87.9 L389.7 88.2 L390.7 88.6 L391.6 88.9 L392.5 89.2 L393.5 89.6 L394.4 89.9 L395.4 90.3 L396.3 90.6 L397.3 90.9 L398.2 91.3 L399.1 91.6 L400.1 92.0 L401.0 92.3 L402.0 92.7 L402.9 93.0 L403.8 93.4 L404.8 93.8 L405.7 94.1 L406.6 94.5 L407.6 94.9 L408.5 95.2 L409.4 95.6 L410.4 96.0 L411.3 96.3 L412.2 96.7 L413.2 97.1 L414.1 97.5 L415.0 97.9 L415.9 98.2 L416.9 98.6 L417.8 99.0 L418.7 99.4 L419.6 99.8 L420.5 100.2 L421.5 100.6 L422.4 101.0 L423.3 101.4 L424.2 101.8 L425.1 102.3 L426.0 102.7 L426.9 103.1 L427.8 103.5 L428.7 104.0 L429.6 104.4 L430.5 104.8 L431.4 105.3 L432.3 105.7 L433.2 106.2 L434.1 106.6 L435.0 107.1 L435.9 107.5 L436.8 108.0 L437.7 108.4 L438.6 108.9 L439.5 109.4 L440.4 109.9 L441.2 110.3 L442.1 110.8 L443.0 111.3 L443.9 111.8 L444.7 112.3 L445.6 112.8 L446.5 113.3 L447.3 113.8 L448.2 114.3 L449.0 114.9 L449.9 115.4 L450.8 115.9 L451.6 116.4 L452.5 117.0 L453.3 117.5 L454.2 118.0 L455.0 118.6 L455.8 119.1 L456.7 119.7 L457.5 120.2 L458.3 120.8 L459.2 121.3 L460.0 121.9 L460.8 122.5 L461.7 123.0 L462.5 123.6 L463.3 124.2 L464.1 124.8 L464.9 125.3 L465.7 125.9 L466.6 126.5 L467.4 127.1 L468.2 127.7 L469.0 128.3 L469.8 128.9 L470.6 129.5 L471.4 130.1 L472.2 130.7 L473.0 131.3 L473.8 131.9 L474.6 132.6 L475.3 133.2 L476.1 133.8 L476.9 134.4 L477.7 135.1 L478.5 135.7 L479.3 136.3 L480.0 136.9 L480.8 137.6 L481.6 138.2 L482.3 138.9 L483.1 139.5 L483.9 140.1 L484.6 140.8 L485.4 141.4 L486.2 142.1 L486.9 142.8 L487.7 143.4 L488.4 144.1 L489.2 144.7 L489.9 145.4 L490.7 146.1 L491.4 146.8 L492.2 147.4 L492.9 148.1 L493.6 148.8 L494.4 149.5 L495.1 150.2 L495.8 150.9 L496.5 151.6 L497.2 152.3 L498.0 153.0 L498.7 153.7 L499.4 154.4 L500.1 155.1 L500.8 155.8 L501.5 156.5 L502.2 157.3 L502.9 158.0 L503.5 158.7 L504.2 159.5 L504.9 160.2 L505.6 160.9 L506.2 161.7 L506.9 162.4 L507.6 163.2 L508.2 163.9 L508.9 164.7 L509.5 165.5 L510.2 166.2 L510.8 167.0 L511.4 167.8 L512.1 168.6 L512.7 169.4 L513.3 170.2 L513.9 170.9 L514.5 171.7 L515.1 172.5 L515.7 173.4 L516.3 174.2 L516.9 175.0 L517.5 175.8 L518.1 176.6 L518.6 177.4 L519.2 178.2 L519.8 179.1 L520.3 179.9 L520.9 180.7 L521.4 181.6 L522.0 182.4 L522.5 183.3 L523.1 184.1 L523.6 184.9 L524.1 185.8 L524.7 186.6 L525.2 187.5 L525.7 188.4 L526.2 189.2 L526.7 190.1 L527.3 190.9 L527.8 191.8 L528.3 192.7 L528.8 193.5 L529.3 194.4 L529.7 195.3 L530.2 196.2 L530.7 197.0 L531.2 197.9 L531.7 198.8 L532.2 199.7 L532.6 200.6 L533.1 201.4 L533.6 202.3 L534.0 203.2 L534.5 204.1 L535.0 205.0 L535.4 205.9 L535.9 206.8 L536.3 207.7 L536.8 208.6 L537.2 209.5 L537.7 210.4 L538.1 211.3 L538.6 212.2 L539.0 213.1 L539.4 214.0 L539.9 214.9 L540.3 215.8 L540.8 216.7 L541.2 217.6 L541.6 218.5 L542.0 219.4 L542.5 220.3 L542.9 221.2 L543.3 222.1 L543.7 223.0 L544.2 223.9 L544.6 224.8 L545.0 225.7 L545.4 226.7 L545.8 227.6 L546.3 228.5 L546.7 229.4 L547.1 230.3 L547.5 231.2 L547.9 232.1 L548.3 233.0 L548.7 234.0 L549.2 234.9 L549.6 235.8 L550.0 236.7 L550.4 237.6 L550.8 238.5 L551.2 239.4 L551.6 240.3 L552.1 241.3 L552.5 242.2 L552.9 243.1 L553.3 244.0 L553.7 244.9 L554.1 245.8" stroke="#000" stroke-width="4.3"/>
<path d="M298.0 22.0 L298.0 23.0 L298.0 24.0 L298.1 25.0 L298.1 26.1 L298.2 27.1 L298.2 28.1 L298.3 29.1 L298.3 30.1 L298.3 31.1 L298.4 32.1 L298.4 33.1 L298.5 34.1 L298.5 35.1 L298.6 36.1 L298.6 37.1 L298.7 38.1 L298.8 39.1 L298.8 40.1 L298.9 41.1 L298.9 42.1 L299.0 43.1 L299.1 44.1 L299.1 45.1 L299.2 46.1 L299.3 47.1 L299.3 48.1 L299.4 49.1 L299.5 50.1 L299.6 51.1 L299.6 52.1 L299.7 53.0 L299.8 54.0 L299.9 55.0 L300.0 56.0 L300.1 57.0 L300.2 58.0 L300.2 59.0 L300.3 60.0 L300.4 61.0 L300.5 62.0 L300.6 63.0 L300.8 64.0 L300.9 65.0 L301.0 66.0 L301.1 67.0 L301.2 68.0 L301.3 69.0 L301.5 70.0 L301.6 71.0 L301.7 72.0 L301.8 73.0 L302.0 74.0 L302.1 75.0 L302.3 75.9 L302.4 76.9 L302.5 77.9 L302.7 78.9 L302.9 79.9 L303.0 80.9 L303.2 81.9 L303.4 82.9 L303.5 83.9 L303.7 84.8 L303.9 85.8 L304.1 86.8 L304.3 87.8 L304.5 88.8 L304.7 89.8 L304.9 90.7 L305.1 91.7 L305.3 92.7 L305.6 93.7 L305.8 94.6 L306.1 95.6 L306.3 96.6 L306.6 97.5 L306.9 98.5 L307.2 99.5 L307.4 100.4 L307.7 101.4 L308.1 102.3 L308.4 103.3 L308.7 104.2 L309.0 105.2 L309.4 106.1 L309.7 107.1 L310.1 108.0 L310.5 108.9 L310.8 109.8 L311.2 110.8 L311.6 111.7 L312.0 112.6 L312.4 113.5 L312.8 114.4 L313.2 115.4 L313.7 116.3 L314.1 117.2 L314.5 118.1 L315.0 119.0 L315.4 119.9 L315.9 120.8 L316.3 121.6 L316.8 122.5 L317.3 123.4 L317.8 124.3 L318.2 125.2 L318.7 126.0 L319.2 126.9 L319.7 127.8 L320.2 128.6 L320.7 129.5 L321.3 130.4 L321.8 131.2 L322.3 132.1 L322.8 132.9 L323.4 133.8 L323.9 134.6 L324.4 135.5 L325.0 136.3 L325.5 137.1 L326.1 138.0 L326.6 138.8 L327.2 139.6 L327.8 140.5 L328.3 141.3 L328.9 142.1 L329.5 142.9 L330.1 143.7 L330.7 144.6 L331.3 145.4 L331.9 146.2 L332.5 147.0 L333.1 147.8 L333.7 148.6 L334.3 149.4 L334.9 150.2 L335.5 150.9 L336.1 151.7 L336.7 152.5 L337.4 153.3 L338.0 154.1 L338.6 154.9 L339.3 155.6 L339.9 156.4 L340.5 157.2 L341.2 158.0 L341.8 158.7 L342.5 159.5 L343.1 160.2 L343.8 161.0 L344.4 161.8 L345.1 162.5 L345.7 163.3 L346.4 164.0 L347.1 164.8 L347.7 165.5 L348.4 166.3 L349.1 167.0 L349.7 167.8 L350.4 168.5 L351.1 169.2 L351.8 170.0 L352.5 170.7 L353.1 171.4 L353.8 172.2 L354.5 172.9 L355.2 173.6 L355.9 174.4 L356.6 175.1 L357.3 175.8 L358.0 176.5 L358.7 177.3 L359.4 178.0 L360.1 178.7 L360.7 179.4 L361.5 180.1 L362.2 180.8 L362.9 181.6 L363.6 182.3 L364.3 183.0 L365.0 183.7 L365.7 184.4 L366.4 185.1 L367.1 185.8 L367.8 186.5 L368.5 187.2 L369.2 187.9 L369.9 188.6 L370.7 189.3 L371.4 190.0 L372.1 190.7 L372.8 191.4 L373.5 192.1 L374.2 192.8 L374.9 193.5 L375.7 194.2 L376.4 194.9 L377.1 195.6 L377.8 196.3 L378.5 197.0 L379.3 197.7 L380.0 198.4 L380.7 199.1 L381.4 199.8 L382.1 200.5 L382.9 201.2 L383.6 201.9 L384.3 202.6 L385.0 203.3 L385.7 204.0 L386.4 204.7 L387.2 205.4 L387.9 206.1 L388.6 206.8 L389.3 207.5 L390.0 208.2 L390.8 208.9 L391.5 209.6 L392.2 210.3 L392.9 211.0 L393.7 211.7 L394.4 212.4 L395.1 213.1 L395.8 213.8 L396.5 214.4 L397.3 215.1 L398.0 215.8 L398.7 216.5 L399.4 217.2 L400.2 217.9 L400.9 218.6 L401.6 219.3 L402.3 220.0 L403.1 220.7 L403.8 221.4 L404.5 222.0 L405.2 222.7 L406.0 223.4 L406.7 224.1 L407.4 224.8 L408.2 225.5 L408.9 226.2 L409.6 226.9 L410.4 227.5 L411.1 228.2 L411.8 228.9 L412.6 229.6 L413.3 230.3 L414.0 230.9 L414.8 231.6 L415.5 232.3 L416.2 233.0 L417.0 233.7 L417.7 234.3 L418.5 235.0 L419.2 235.7 L419.9 236.4 L420.7 237.0 L421.4 237.7 L422.2 238.4 L422.9 239.0 L423.7 239.7 L424.4 240.4 L425.2 241.1 L425.9 241.7 L426.7 242.4 L427.4 243.0 L428.2 243.7 L428.9 244.4 L429.7 245.0 L430.4 245.7 L431.2 246.3 L431.9 247.0 L432.7 247.6 L433.5 248.3 L434.2 248.9 L435.0 249.6 L435.7 250.2 L436.5 250.9 L437.3 251.5 L438.1 252.2 L438.8 252.8 L439.6 253.4 L440.4 254.1 L441.2 254.7 L441.9 255.3 L442.7 256.0 L443.5 256.6 L444.3 257.2 L445.1 257.8 L445.9 258.5 L446.6 259.1 L447.4 259.7 L448.2 260.3 L449.0 260.9 L449.8 261.5 L450.6 262.1 L451.4 262.7 L452.2 263.3 L453.0 263.9 L453.8 264.5 L454.7 265.1 L455.5 265.7 L456.3 266.2 L457.1 266.8 L457.9 267.4 L458.7 268.0 L459.6 268.5 L460.4 269.1 L461.2 269.7 L462.1 270.2 L462.9 270.8 L463.7 271.3 L464.6 271.9 L465.4 272.4 L466.2 273.0 L467.1 273.5 L467.9 274.0 L468.8 274.6 L469.6 275.1 L470.5 275.6 L471.4 276.1 L472.2 276.6 L473.1 277.1 L474.0 277.6 L474.8 278.1 L475.7 278.6 L476.6 279.1 L477.4 279.6 L478.3 280.1 L479.2 280.6 L480.1 281.0 L481.0 281.5 L481.9 282.0 L482.8 282.4 L483.6 282.9 L484.5 283.3 L485.4 283.8 L486.3 284.2 L487.2 284.6 L488.2 285.1 L489.1 285.5 L490.0 285.9 L490.9 286.3 L491.8 286.7 L492.7 287.1 L493.6 287.5 L494.6 287.9 L495.5 288.3 L496.4 288.7 L497.4 289.0 L498.3 289.4 L499.2 289.7 L500.2 290.1 L501.1 290.4 L502.0 290.8 L503.0 291.1 L503.9 291.4 L504.9 291.8 L505.8 292.1 L506.8 292.4 L507.8 292.7 L508.7 293.0 L509.7 293.2 L510.6 293.5 L511.6 293.8 L512.6 294.0 L513.5 294.3 L514.5 294.5 L515.5 294.8 L516.5 295.0 L517.4 295.2 L518.4 295.5 L519.4 295.7 L520.4 295.9 L521.4 296.1 L522.3 296.2 L523.3 296.4 L524.3 296.6 L525.3 296.8 L526.3 296.9 L527.3 297.0 L528.3 297.2 L529.3 297.3 L530.3 297.4 L531.3 297.5 L532.3 297.6 L533.3 297.7 L534.3 297.8 L535.3 297.9 L536.3 298.0 L537.3 298.0 L538.3 298.1 L539.3 298.1 L540.3 298.1 L541.3 298.2 L542.3 298.2 L543.3 298.2 L544.3 298.2 L545.3 298.2 L546.3 298.1 L547.3 298.1 L548.3 298.1 L549.3 298.0 L550.3 298.0 L551.3 297.9 L552.3 297.8 L553.3 297.7 L554.3 297.6 L555.3 297.5 L556.3 297.4" stroke="#ff0000" stroke-width="4.2" stroke-dasharray="4.8 4.45" stroke-dashoffset="-2.0"/>
<path d="M295.2 22.0 L295.2 23.0 L295.3 24.0 L295.4 25.0 L295.4 26.0 L295.5 27.0 L295.5 28.0 L295.6 29.0 L295.7 30.0 L295.7 31.0 L295.8 32.0 L295.8 33.0 L295.9 34.0 L295.9 35.0 L296.0 36.0 L296.0 37.0 L296.0 38.0 L296.1 39.0 L296.1 40.0 L296.2 41.0 L296.2 42.0 L296.2 43.0 L296.3 44.0 L296.3 45.0 L296.4 46.0 L296.4 47.0 L296.4 48.0 L296.5 49.0 L296.5 50.0 L296.5 51.0 L296.5 52.0 L296.6 53.0 L296.6 54.0 L296.6 55.0 L296.7 56.0 L296.7 57.0 L296.7 58.0 L296.7 59.0 L296.8 60.1 L296.8 61.1 L296.8 62.1 L296.8 63.1 L296.9 64.1 L296.9 65.1 L296.9 66.1 L296.9 67.1 L297.0 68.1 L297.0 69.1 L297.0 70.1 L297.0 71.1 L297.1 72.1 L297.1 73.1 L297.1 74.1 L297.1 75.1 L297.2 76.1 L297.2 77.1 L297.2 78.1 L297.2 79.1 L297.3 80.1 L297.3 81.1 L297.3 82.1 L297.4 83.1 L297.4 84.1 L297.4 85.1 L297.4 86.1 L297.5 87.1 L297.5 88.1 L297.5 89.1 L297.6 90.1 L297.6 91.1 L297.7 92.1 L297.7 93.1 L297.7 94.1 L297.8 95.1 L297.8 96.1 L297.9 97.1 L297.9 98.1 L297.9 99.1 L298.0 100.1 L298.0 101.1 L298.1 102.1 L298.1 103.1 L298.2 104.1 L298.3 105.1 L298.3 106.1 L298.4 107.1 L298.4 108.1 L298.5 109.1 L298.6 110.1 L298.6 111.1 L298.7 112.1 L298.8 113.1 L298.8 114.1 L298.9 115.1 L299.0 116.1 L299.1 117.1 L299.1 118.1 L299.2 119.1 L299.3 120.1 L299.4 121.1 L299.5 122.1 L299.6 123.1 L299.7 124.1 L299.8 125.1 L299.9 126.1 L300.0 127.1 L300.1 128.1 L300.2 129.1 L300.3 130.1 L300.4 131.1 L300.5 132.1 L300.6 133.1 L300.8 134.1 L300.9 135.1 L301.0 136.0 L301.1 137.0 L301.3 138.0 L301.4 139.0 L301.5 140.0 L301.7 141.0 L301.8 142.0 L302.0 143.0 L302.1 144.0 L302.3 145.0 L302.4 146.0 L302.6 146.9 L302.8 147.9 L302.9 148.9 L303.1 149.9 L303.3 150.9 L303.5 151.9 L303.7 152.9 L303.8 153.9 L304.0 154.8 L304.2 155.8 L304.4 156.8 L304.6 157.8 L304.8 158.8 L305.1 159.7 L305.3 160.7 L305.5 161.7 L305.7 162.7 L305.9 163.6 L306.2 164.6 L306.4 165.6 L306.7 166.6 L306.9 167.5 L307.2 168.5 L307.4 169.5 L307.7 170.4 L307.9 171.4 L308.2 172.4 L308.5 173.3 L308.8 174.3 L309.0 175.3 L309.3 176.2 L309.6 177.2 L309.9 178.1 L310.2 179.1 L310.5 180.0 L310.9 181.0 L311.2 181.9 L311.5 182.9 L311.8 183.8 L312.2 184.8 L312.5 185.7 L312.9 186.7 L313.2 187.6 L313.6 188.5 L313.9 189.5 L314.3 190.4 L314.7 191.3 L315.1 192.3 L315.4 193.2 L315.8 194.1 L316.2 195.0 L316.6 195.9 L317.1 196.9 L317.5 197.8 L317.9 198.7 L318.3 199.6 L318.8 200.5 L319.2 201.4 L319.6 202.3 L320.1 203.2 L320.5 204.1 L321.0 205.0 L321.5 205.9 L321.9 206.7 L322.4 207.6 L322.9 208.5 L323.4 209.4 L323.9 210.2 L324.4 211.1 L324.9 212.0 L325.4 212.8 L325.9 213.7 L326.4 214.6 L326.9 215.4 L327.4 216.3 L328.0 217.1 L328.5 218.0 L329.0 218.8 L329.6 219.7 L330.1 220.5 L330.7 221.3 L331.2 222.2 L331.8 223.0 L332.4 223.8 L332.9 224.7 L333.5 225.5 L334.1 226.3 L334.7 227.1 L335.2 227.9 L335.8 228.7 L336.4 229.6 L337.0 230.4 L337.6 231.2 L338.2 232.0 L338.8 232.8 L339.4 233.6 L340.0 234.4 L340.7 235.1 L341.3 235.9 L341.9 236.7 L342.5 237.5 L343.2 238.3 L343.8 239.0 L344.4 239.8 L345.1 240.6 L345.7 241.4 L346.4 242.1 L347.0 242.9 L347.7 243.6 L348.3 244.4 L349.0 245.2 L349.7 245.9 L350.3 246.7 L351.0 247.4 L351.7 248.1 L352.3 248.9 L353.0 249.6 L353.7 250.3 L354.4 251.1 L355.1 251.8 L355.8 252.5 L356.5 253.2 L357.2 253.9 L357.9 254.7 L358.6 255.4 L359.3 256.1 L360.0 256.8 L360.8 257.5 L361.5 258.2 L362.2 258.8 L363.0 259.5 L363.7 260.2 L364.4 260.9 L365.2 261.5 L365.9 262.2 L366.7 262.9 L367.4 263.5 L368.2 264.2 L369.0 264.8 L369.7 265.5 L370.5 266.1 L371.3 266.7 L372.1 267.3 L372.9 268.0 L373.7 268.6 L374.5 269.2 L375.3 269.8 L376.1 270.4 L376.9 271.0 L377.7 271.6 L378.5 272.1 L379.3 272.7 L380.2 273.3 L381.0 273.8 L381.8 274.4 L382.7 274.9 L383.5 275.5 L384.4 276.0 L385.2 276.5 L386.1 277.0 L386.9 277.6 L387.8 278.1 L388.7 278.6 L389.5 279.0 L390.4 279.5 L391.3 280.0 L392.2 280.5 L393.1 280.9 L394.0 281.4 L394.9 281.8 L395.8 282.2 L396.7 282.7 L397.6 283.1 L398.5 283.5 L399.4 283.9 L400.3 284.3 L401.3 284.7 L402.2 285.1 L403.1 285.5 L404.0 285.8 L405.0 286.2 L405.9 286.6 L406.9 286.9 L407.8 287.3 L408.7 287.6 L409.7 287.9 L410.6 288.3 L411.6 288.6 L412.5 288.9 L413.5 289.2 L414.4 289.5 L415.4 289.8 L416.4 290.1 L417.3 290.4 L418.3 290.6 L419.3 290.9 L420.2 291.2 L421.2 291.4 L422.2 291.7 L423.1 291.9 L424.1 292.2 L425.1 292.4 L426.1 292.6 L427.0 292.8 L428.0 293.1 L429.0 293.3 L430.0 293.5 L430.9 293.7 L431.9 293.9 L432.9 294.1 L433.9 294.2 L434.9 294.4 L435.9 294.6 L436.9 294.8 L437.8 294.9 L438.8 295.1 L439.8 295.2 L440.8 295.4 L441.8 295.5 L442.8 295.7 L443.8 295.8 L444.8 295.9 L445.8 296.1 L446.8 296.2 L447.8 296.3 L448.8 296.4 L449.8 296.5 L450.8 296.6 L451.8 296.7 L452.8 296.8 L453.8 296.9 L454.7 297.0 L455.7 297.1 L456.7 297.2 L457.7 297.3 L458.7 297.3 L459.7 297.4 L460.7 297.5 L461.7 297.5 L462.7 297.6 L463.7 297.6 L464.7 297.7 L465.7 297.7 L466.7 297.8 L467.7 297.8 L468.7 297.9 L469.8 297.9 L470.8 297.9 L471.8 298.0 L472.8 298.0 L473.8 298.0 L474.8 298.1 L475.8 298.1 L476.8 298.1 L477.8 298.1 L478.8 298.1 L479.8 298.2 L480.8 298.2 L481.8 298.2 L482.8 298.2 L483.8 298.2 L484.8 298.2 L485.8 298.2 L486.8 298.2 L487.8 298.2 L488.8 298.2 L489.8 298.2 L490.8 298.2 L491.8 298.2 L492.8 298.2 L493.8 298.2 L494.8 298.1 L495.8 298.1 L496.8 298.1 L497.8 298.1 L498.8 298.1 L499.8 298.1 L500.8 298.1 L501.8 298.1 L502.8 298.0 L503.8 298.0 L504.8 298.0 L505.8 298.0 L506.8 298.0 L507.8 298.0 L508.8 297.9 L509.8 297.9 L510.8 297.9 L511.8 297.9 L512.8 297.9 L513.8 297.9 L514.8 297.8 L515.8 297.8 L516.8 297.8 L517.8 297.8 L518.8 297.8 L519.8 297.8 L520.8 297.8 L521.8 297.8 L522.8 297.7 L523.9 297.7 L524.9 297.7 L525.9 297.7 L526.9 297.7 L527.9 297.7 L528.9 297.7 L529.9 297.7 L530.9 297.7 L531.9 297.7 L532.9 297.7 L533.9 297.7 L534.9 297.7 L535.9 297.8 L536.9 297.8 L537.9 297.8 L538.9 297.8 L539.9 297.8 L540.9 297.8 L541.9 297.9 L542.9 297.9 L543.9 297.9 L544.9 298.0 L545.9 298.0 L546.9 298.0 L547.9 298.1 L548.9 298.1 L549.9 298.2 L550.9 298.2 L551.9 298.3 L552.9 298.3 L553.9 298.4 L554.9 298.4 L555.9 298.5" stroke="#0000ff" stroke-width="4.2" stroke-dasharray="1.8 2.825" stroke-dashoffset="-1.2"/>
</g>
<g clip-path="url(#cp2)" fill="none" stroke-linejoin="round">
<path d="M564.3 21.5 L564.4 22.5 L564.4 23.5 L564.5 24.5 L564.5 25.5 L564.6 26.5 L564.7 27.5 L564.8 28.5 L565.0 29.5 L565.1 30.5 L565.3 31.5 L565.5 32.5 L565.7 33.5 L565.9 34.4 L566.1 35.4 L566.3 36.4 L566.6 37.3 L566.8 38.3 L567.1 39.3 L567.4 40.2 L567.7 41.2 L568.1 42.1 L568.4 43.1 L568.8 44.0 L569.1 44.9 L569.5 45.9 L569.9 46.8 L570.3 47.7 L570.7 48.6 L571.2 49.5 L571.6 50.4 L572.1 51.3 L572.6 52.2 L573.1 53.0 L573.6 53.9 L574.1 54.7 L574.6 55.6 L575.1 56.4 L575.7 57.3 L576.3 58.1 L576.8 58.9 L577.4 59.7 L578.0 60.5 L578.6 61.3 L579.2 62.1 L579.9 62.9 L580.5 63.7 L581.2 64.4 L581.8 65.2 L582.5 65.9 L583.2 66.7 L583.8 67.4 L584.5 68.1 L585.2 68.8 L586.0 69.5 L586.7 70.2 L587.4 70.9 L588.1 71.6 L588.9 72.3 L589.6 72.9 L590.4 73.6 L591.1 74.2 L591.9 74.9 L592.7 75.5 L593.4 76.2 L594.2 76.8 L595.0 77.4 L595.8 78.0 L596.6 78.6 L597.4 79.3 L598.2 79.9 L599.0 80.5 L599.8 81.1 L600.6 81.6 L601.4 82.2 L602.2 82.8 L603.0 83.4 L603.8 84.0 L604.6 84.6 L605.5 85.1 L606.3 85.7 L607.1 86.3 L607.9 86.8 L608.8 87.4 L609.6 88.0 L610.4 88.5 L611.2 89.1 L612.1 89.7 L612.9 90.2 L613.7 90.8 L614.5 91.3 L615.4 91.9 L616.2 92.5 L617.0 93.0 L617.9 93.6 L618.7 94.2 L619.5 94.7 L620.3 95.3 L621.2 95.8 L622.0 96.4 L622.8 97.0 L623.7 97.5 L624.5 98.1 L625.3 98.6 L626.2 99.2 L627.0 99.8 L627.8 100.3 L628.6 100.9 L629.5 101.4 L630.3 102.0 L631.1 102.6 L632.0 103.1 L632.8 103.7 L633.6 104.2 L634.4 104.8 L635.3 105.3 L636.1 105.9 L636.9 106.5 L637.8 107.0 L638.6 107.6 L639.4 108.1 L640.3 108.7 L641.1 109.3 L641.9 109.8 L642.7 110.4 L643.6 110.9 L644.4 111.5 L645.2 112.1 L646.1 112.6 L646.9 113.2 L647.7 113.7 L648.5 114.3 L649.4 114.9 L650.2 115.4 L651.0 116.0 L651.9 116.6 L652.7 117.1 L653.5 117.7 L654.3 118.2 L655.2 118.8 L656.0 119.4 L656.8 119.9 L657.6 120.5 L658.5 121.1 L659.3 121.6 L660.1 122.2 L661.0 122.8 L661.8 123.3 L662.6 123.9 L663.4 124.4 L664.3 125.0 L665.1 125.6 L665.9 126.1 L666.7 126.7 L667.5 127.3 L668.4 127.9 L669.2 128.4 L670.0 129.0 L670.8 129.6 L671.7 130.1 L672.5 130.7 L673.3 131.3 L674.1 131.8 L674.9 132.4 L675.8 133.0 L676.6 133.6 L677.4 134.1 L678.2 134.7 L679.0 135.3 L679.9 135.9 L680.7 136.4 L681.5 137.0 L682.3 137.6 L683.1 138.2 L683.9 138.8 L684.8 139.3 L685.6 139.9 L686.4 140.5 L687.2 141.1 L688.0 141.7 L688.8 142.2 L689.6 142.8 L690.5 143.4 L691.3 144.0 L692.1 144.6 L692.9 145.2 L693.7 145.8 L694.5 146.3 L695.3 146.9 L696.1 147.5 L696.9 148.1 L697.7 148.7 L698.5 149.3 L699.3 149.9 L700.2 150.5 L701.0 151.1 L701.8 151.7 L702.6 152.3 L703.4 152.9 L704.2 153.5 L705.0 154.1 L705.8 154.7 L706.6 155.3 L707.4 155.9 L708.2 156.5 L709.0 157.1 L709.8 157.7 L710.6 158.3 L711.4 158.9 L712.2 159.5 L713.0 160.1 L713.8 160.7 L714.5 161.3 L715.3 161.9 L716.1 162.5 L716.9 163.1 L717.7 163.8 L718.5 164.4 L719.3 165.0 L720.1 165.6 L720.9 166.2 L721.7 166.8 L722.5 167.4 L723.2 168.1 L724.0 168.7 L724.8 169.3 L725.6 169.9 L726.4 170.6 L727.2 171.2 L727.9 171.8 L728.7 172.4 L729.5 173.1 L730.3 173.7 L731.1 174.3 L731.8 174.9 L732.6 175.6 L733.4 176.2 L734.2 176.8 L734.9 177.5 L735.7 178.1 L736.5 178.7 L737.2 179.4 L738.0 180.0 L738.8 180.7 L739.6 181.3 L740.3 181.9 L741.1 182.6 L741.9 183.2 L742.6 183.9 L743.4 184.5 L744.1 185.2 L744.9 185.8 L745.7 186.5 L746.4 187.1 L747.2 187.8 L747.9 188.4 L748.7 189.1 L749.5 189.7 L750.2 190.4 L751.0 191.0 L751.7 191.7 L752.5 192.4 L753.2 193.0 L754.0 193.7 L754.7 194.4 L755.5 195.0 L756.2 195.7 L757.0 196.4 L757.7 197.0 L758.4 197.7 L759.2 198.4 L759.9 199.0 L760.7 199.7 L761.4 200.4 L762.2 201.1 L762.9 201.7 L763.6 202.4 L764.4 203.1 L765.1 203.8 L765.8 204.4 L766.6 205.1 L767.3 205.8 L768.1 206.5 L768.8 207.1 L769.5 207.8 L770.3 208.5 L771.0 209.2 L771.7 209.8 L772.5 210.5 L773.2 211.2 L773.9 211.9 L774.7 212.6 L775.4 213.2 L776.1 213.9 L776.9 214.6 L777.6 215.3 L778.4 216.0 L779.1 216.6 L779.8 217.3 L780.6 218.0 L781.3 218.7 L782.0 219.3 L782.8 220.0 L783.5 220.7 L784.3 221.4 L785.0 222.0 L785.7 222.7 L786.5 223.4 L787.2 224.1 L788.0 224.7 L788.7 225.4 L789.5 226.1 L790.2 226.7 L791.0 227.4 L791.7 228.0 L792.5 228.7 L793.2 229.3 L794.0 230.0 L794.8 230.6 L795.5 231.3 L796.3 231.9 L797.1 232.5 L797.9 233.1 L798.7 233.7 L799.5 234.3 L800.3 234.9 L801.1 235.5 L801.9 236.1 L802.7 236.7 L803.5 237.3 L804.3 237.8 L805.2 238.4 L806.0 238.9 L806.9 239.5 L807.7 240.0 L808.6 240.5 L809.4 241.0 L810.3 241.5 L811.2 242.0 L812.1 242.5 L812.9 243.0 L813.8 243.4 L814.7 243.8 L815.6 244.3 L816.6 244.7 L817.5 245.1" stroke="#000" stroke-width="4.3"/>
<path d="M563.7 22.5 L563.7 23.5 L563.8 24.5 L563.8 25.5 L563.9 26.5 L564.0 27.5 L564.0 28.5 L564.1 29.5 L564.1 30.5 L564.2 31.5 L564.3 32.5 L564.3 33.5 L564.4 34.5 L564.5 35.5 L564.5 36.5 L564.6 37.5 L564.7 38.5 L564.8 39.5 L564.8 40.5 L564.9 41.5 L565.0 42.5 L565.1 43.5 L565.1 44.5 L565.2 45.5 L565.3 46.4 L565.4 47.4 L565.5 48.4 L565.6 49.4 L565.6 50.4 L565.7 51.4 L565.8 52.4 L565.9 53.4 L566.0 54.4 L566.1 55.4 L566.2 56.4 L566.3 57.4 L566.4 58.4 L566.5 59.4 L566.6 60.4 L566.7 61.4 L566.8 62.4 L566.9 63.4 L567.0 64.4 L567.1 65.4 L567.2 66.4 L567.4 67.4 L567.5 68.4 L567.6 69.4 L567.7 70.4 L567.8 71.4 L567.9 72.4 L568.1 73.4 L568.2 74.4 L568.3 75.4 L568.5 76.3 L568.6 77.3 L568.7 78.3 L568.8 79.3 L569.0 80.3 L569.1 81.3 L569.3 82.3 L569.4 83.3 L569.5 84.3 L569.7 85.3 L569.8 86.3 L570.0 87.3 L570.1 88.3 L570.3 89.2 L570.4 90.2 L570.6 91.2 L570.8 92.2 L570.9 93.2 L571.1 94.2 L571.2 95.2 L571.4 96.2 L571.6 97.2 L571.7 98.2 L571.9 99.1 L572.1 100.1 L572.3 101.1 L572.4 102.1 L572.6 103.1 L572.8 104.1 L573.0 105.1 L573.2 106.0 L573.4 107.0 L573.6 108.0 L573.8 109.0 L574.0 110.0 L574.2 111.0 L574.4 111.9 L574.6 112.9 L574.8 113.9 L575.0 114.9 L575.2 115.9 L575.4 116.8 L575.6 117.8 L575.8 118.8 L576.0 119.8 L576.3 120.8 L576.5 121.7 L576.7 122.7 L576.9 123.7 L577.2 124.7 L577.4 125.6 L577.6 126.6 L577.9 127.6 L578.1 128.6 L578.4 129.5 L578.6 130.5 L578.9 131.5 L579.1 132.4 L579.4 133.4 L579.6 134.4 L579.9 135.3 L580.2 136.3 L580.4 137.3 L580.7 138.2 L581.0 139.2 L581.2 140.2 L581.5 141.1 L581.8 142.1 L582.1 143.1 L582.4 144.0 L582.6 145.0 L582.9 145.9 L583.2 146.9 L583.5 147.9 L583.8 148.8 L584.1 149.8 L584.4 150.7 L584.7 151.7 L585.0 152.6 L585.4 153.6 L585.7 154.5 L586.0 155.5 L586.3 156.4 L586.6 157.4 L587.0 158.3 L587.3 159.3 L587.6 160.2 L588.0 161.2 L588.3 162.1 L588.7 163.0 L589.0 164.0 L589.4 164.9 L589.7 165.9 L590.1 166.8 L590.4 167.7 L590.8 168.7 L591.2 169.6 L591.5 170.5 L591.9 171.5 L592.3 172.4 L592.7 173.3 L593.1 174.2 L593.4 175.2 L593.8 176.1 L594.2 177.0 L594.6 177.9 L595.0 178.8 L595.4 179.8 L595.8 180.7 L596.2 181.6 L596.7 182.5 L597.1 183.4 L597.5 184.3 L597.9 185.2 L598.4 186.1 L598.8 187.0 L599.2 187.9 L599.7 188.9 L600.1 189.7 L600.5 190.6 L601.0 191.5 L601.4 192.4 L601.9 193.3 L602.4 194.2 L602.8 195.1 L603.3 196.0 L603.8 196.9 L604.2 197.8 L604.7 198.6 L605.2 199.5 L605.7 200.4 L606.2 201.3 L606.7 202.1 L607.2 203.0 L607.7 203.9 L608.2 204.7 L608.7 205.6 L609.2 206.5 L609.7 207.3 L610.2 208.2 L610.8 209.0 L611.3 209.9 L611.8 210.7 L612.4 211.6 L612.9 212.4 L613.4 213.3 L614.0 214.1 L614.5 215.0 L615.1 215.8 L615.6 216.6 L616.2 217.5 L616.8 218.3 L617.3 219.1 L617.9 219.9 L618.5 220.7 L619.1 221.6 L619.7 222.4 L620.2 223.2 L620.8 224.0 L621.4 224.8 L622.0 225.6 L622.6 226.4 L623.3 227.2 L623.9 228.0 L624.5 228.8 L625.1 229.6 L625.7 230.4 L626.4 231.1 L627.0 231.9 L627.6 232.7 L628.3 233.5 L628.9 234.2 L629.5 235.0 L630.2 235.8 L630.8 236.5 L631.5 237.3 L632.2 238.0 L632.8 238.8 L633.5 239.5 L634.2 240.3 L634.9 241.0 L635.5 241.7 L636.2 242.5 L636.9 243.2 L637.6 243.9 L638.3 244.6 L639.0 245.4 L639.7 246.1 L640.4 246.8 L641.1 247.5 L641.8 248.2 L642.6 248.9 L643.3 249.6 L644.0 250.3 L644.7 251.0 L645.5 251.6 L646.2 252.3 L647.0 253.0 L647.7 253.7 L648.5 254.3 L649.2 255.0 L650.0 255.6 L650.7 256.3 L651.5 256.9 L652.3 257.6 L653.0 258.2 L653.8 258.9 L654.6 259.5 L655.4 260.1 L656.2 260.7 L657.0 261.3 L657.8 261.9 L658.6 262.5 L659.4 263.1 L660.2 263.7 L661.0 264.3 L661.8 264.9 L662.6 265.5 L663.4 266.1 L664.3 266.6 L665.1 267.2 L665.9 267.7 L666.8 268.3 L667.6 268.8 L668.5 269.4 L669.3 269.9 L670.2 270.4 L671.0 271.0 L671.9 271.5 L672.7 272.0 L673.6 272.5 L674.5 273.0 L675.3 273.5 L676.2 274.0 L677.1 274.5 L678.0 274.9 L678.9 275.4 L679.7 275.9 L680.6 276.3 L681.5 276.8 L682.4 277.2 L683.3 277.7 L684.2 278.1 L685.1 278.6 L686.0 279.0 L686.9 279.4 L687.8 279.8 L688.8 280.3 L689.7 280.7 L690.6 281.1 L691.5 281.5 L692.4 281.8 L693.4 282.2 L694.3 282.6 L695.2 283.0 L696.2 283.4 L697.1 283.7 L698.0 284.1 L699.0 284.4 L699.9 284.8 L700.8 285.1 L701.8 285.5 L702.7 285.8 L703.7 286.1 L704.6 286.4 L705.6 286.7 L706.5 287.0 L707.5 287.4 L708.4 287.6 L709.4 287.9 L710.4 288.2 L711.3 288.5 L712.3 288.8 L713.3 289.1 L714.2 289.3 L715.2 289.6 L716.2 289.8 L717.1 290.1 L718.1 290.3 L719.1 290.6 L720.1 290.8 L721.0 291.0 L722.0 291.3 L723.0 291.5 L724.0 291.7 L724.9 291.9 L725.9 292.1 L726.9 292.3 L727.9 292.5 L728.9 292.7 L729.9 292.9 L730.8 293.1 L731.8 293.3 L732.8 293.4 L733.8 293.6 L734.8 293.8 L735.8 293.9 L736.8 294.1 L737.8 294.2 L738.8 294.4 L739.7 294.5 L740.7 294.7 L741.7 294.8 L742.7 294.9 L743.7 295.1 L744.7 295.2 L745.7 295.3 L746.7 295.4 L747.7 295.6 L748.7 295.7 L749.7 295.8 L750.7 295.9 L751.7 296.0 L752.7 296.1 L753.7 296.2 L754.7 296.3 L755.7 296.4 L756.7 296.4 L757.7 296.5 L758.7 296.6 L759.7 296.7 L760.7 296.8 L761.7 296.8 L762.7 296.9 L763.7 297.0 L764.7 297.0 L765.7 297.1 L766.7 297.2 L767.7 297.2 L768.7 297.3 L769.7 297.3 L770.7 297.4 L771.7 297.4 L772.7 297.5 L773.7 297.5 L774.7 297.5 L775.7 297.6 L776.7 297.6 L777.7 297.6 L778.7 297.7 L779.7 297.7 L780.7 297.7 L781.7 297.8 L782.7 297.8 L783.7 297.8 L784.7 297.8 L785.7 297.8 L786.7 297.9 L787.7 297.9 L788.7 297.9 L789.7 297.9 L790.7 297.9 L791.7 297.9 L792.7 297.9 L793.7 297.9 L794.7 297.9 L795.7 298.0 L796.7 298.0 L797.7 298.0 L798.7 298.0 L799.7 298.0 L800.7 298.0 L801.7 298.0 L802.7 298.0 L803.7 298.0 L804.7 298.0 L805.7 298.0 L806.7 298.0 L807.7 298.0 L808.7 297.9 L809.8 297.9 L810.8 297.9 L811.8 297.9 L812.8 297.9 L813.8 297.9 L814.8 297.9 L815.8 297.9 L816.8 297.9 L817.8 297.9 L818.8 297.9" stroke="#ff0000" stroke-width="4.2" stroke-dasharray="4.8 4.45" stroke-dashoffset="1.0"/>
<path d="M560.0 21.8 L560.1 22.8 L560.1 23.8 L560.1 24.8 L560.1 25.8 L560.2 26.8 L560.2 27.8 L560.2 28.8 L560.2 29.8 L560.3 30.8 L560.3 31.8 L560.3 32.8 L560.4 33.8 L560.4 34.8 L560.4 35.8 L560.5 36.8 L560.5 37.8 L560.5 38.8 L560.6 39.8 L560.6 40.8 L560.6 41.8 L560.7 42.8 L560.7 43.8 L560.7 44.8 L560.8 45.8 L560.8 46.8 L560.8 47.8 L560.9 48.8 L560.9 49.9 L561.0 50.9 L561.0 51.9 L561.1 52.9 L561.1 53.9 L561.1 54.9 L561.2 55.9 L561.2 56.9 L561.3 57.9 L561.3 58.9 L561.4 59.9 L561.4 60.9 L561.5 61.9 L561.5 62.9 L561.6 63.9 L561.6 64.9 L561.7 65.9 L561.7 66.9 L561.8 67.9 L561.8 68.9 L561.9 69.9 L561.9 70.9 L562.0 71.9 L562.0 72.9 L562.1 73.9 L562.1 74.9 L562.2 75.9 L562.2 76.9 L562.3 77.9 L562.4 78.9 L562.4 79.9 L562.5 80.9 L562.5 81.9 L562.6 82.9 L562.7 83.9 L562.7 84.9 L562.8 85.9 L562.8 86.9 L562.9 87.9 L563.0 88.9 L563.0 89.9 L563.1 90.9 L563.2 91.9 L563.2 92.9 L563.3 93.9 L563.4 94.9 L563.4 95.9 L563.5 96.9 L563.6 97.9 L563.6 98.9 L563.7 99.9 L563.8 100.9 L563.8 101.9 L563.9 102.9 L564.0 103.9 L564.0 104.9 L564.1 105.9 L564.2 106.9 L564.3 107.9 L564.3 108.9 L564.4 109.9 L564.5 110.9 L564.6 111.9 L564.6 112.9 L564.7 113.9 L564.8 114.9 L564.9 115.9 L564.9 116.9 L565.0 117.9 L565.1 118.9 L565.2 119.9 L565.3 120.9 L565.3 121.9 L565.4 122.9 L565.5 123.9 L565.6 124.9 L565.7 125.9 L565.8 126.9 L565.8 127.9 L565.9 128.9 L566.0 129.9 L566.1 130.8 L566.2 131.8 L566.3 132.8 L566.3 133.8 L566.4 134.8 L566.5 135.8 L566.6 136.8 L566.7 137.8 L566.8 138.8 L566.9 139.8 L567.0 140.8 L567.1 141.8 L567.1 142.8 L567.2 143.8 L567.3 144.8 L567.4 145.8 L567.5 146.8 L567.6 147.8 L567.7 148.8 L567.8 149.8 L567.9 150.8 L568.0 151.8 L568.1 152.8 L568.2 153.8 L568.3 154.8 L568.4 155.8 L568.5 156.8 L568.6 157.8 L568.7 158.8 L568.8 159.8 L568.9 160.8 L569.0 161.8 L569.1 162.8 L569.2 163.8 L569.4 164.8 L569.5 165.8 L569.6 166.8 L569.7 167.7 L569.8 168.7 L569.9 169.7 L570.1 170.7 L570.2 171.7 L570.3 172.7 L570.4 173.7 L570.6 174.7 L570.7 175.7 L570.8 176.7 L571.0 177.7 L571.1 178.7 L571.3 179.7 L571.4 180.7 L571.6 181.7 L571.7 182.6 L571.9 183.6 L572.0 184.6 L572.2 185.6 L572.3 186.6 L572.5 187.6 L572.6 188.6 L572.8 189.6 L573.0 190.6 L573.2 191.5 L573.3 192.5 L573.5 193.5 L573.7 194.5 L573.9 195.5 L574.1 196.5 L574.3 197.5 L574.4 198.4 L574.6 199.4 L574.8 200.4 L575.1 201.4 L575.3 202.4 L575.5 203.3 L575.7 204.3 L575.9 205.3 L576.1 206.3 L576.3 207.3 L576.6 208.2 L576.8 209.2 L577.0 210.2 L577.3 211.2 L577.5 212.1 L577.8 213.1 L578.0 214.1 L578.3 215.0 L578.5 216.0 L578.8 217.0 L579.1 217.9 L579.4 218.9 L579.6 219.9 L579.9 220.8 L580.2 221.8 L580.5 222.7 L580.8 223.7 L581.1 224.7 L581.4 225.6 L581.7 226.6 L582.0 227.5 L582.3 228.5 L582.6 229.4 L583.0 230.4 L583.3 231.3 L583.6 232.3 L584.0 233.2 L584.3 234.1 L584.7 235.1 L585.0 236.0 L585.4 236.9 L585.8 237.9 L586.1 238.8 L586.5 239.7 L586.9 240.7 L587.3 241.6 L587.7 242.5 L588.1 243.4 L588.5 244.3 L588.9 245.3 L589.3 246.2 L589.7 247.1 L590.2 248.0 L590.6 248.9 L591.0 249.8 L591.5 250.7 L591.9 251.6 L592.4 252.5 L592.8 253.4 L593.3 254.3 L593.8 255.1 L594.2 256.0 L594.7 256.9 L595.2 257.8 L595.7 258.7 L596.2 259.5 L596.7 260.4 L597.2 261.3 L597.7 262.1 L598.3 263.0 L598.8 263.8 L599.3 264.7 L599.9 265.5 L600.4 266.3 L601.0 267.1 L601.6 268.0 L602.2 268.8 L602.8 269.6 L603.4 270.4 L604.0 271.2 L604.6 272.0 L605.3 272.7 L605.9 273.5 L606.6 274.2 L607.2 275.0 L607.9 275.7 L608.6 276.4 L609.3 277.1 L610.1 277.8 L610.8 278.5 L611.5 279.2 L612.3 279.8 L613.1 280.5 L613.9 281.1 L614.7 281.7 L615.5 282.3 L616.3 282.9 L617.1 283.4 L618.0 284.0 L618.8 284.5 L619.7 285.0 L620.6 285.5 L621.4 286.0 L622.3 286.4 L623.2 286.9 L624.1 287.3 L625.0 287.8 L625.9 288.2 L626.8 288.6 L627.8 289.0 L628.7 289.4 L629.6 289.7 L630.6 290.1 L631.5 290.4 L632.5 290.8 L633.4 291.1 L634.4 291.4 L635.3 291.7 L636.3 292.0 L637.2 292.3 L638.2 292.5 L639.2 292.8 L640.1 293.1 L641.1 293.3 L642.1 293.5 L643.0 293.8 L644.0 294.0 L645.0 294.2 L646.0 294.4 L647.0 294.6 L648.0 294.8 L648.9 295.0 L649.9 295.2 L650.9 295.3 L651.9 295.5 L652.9 295.6 L653.9 295.8 L654.9 295.9 L655.9 296.1 L656.9 296.2 L657.9 296.3 L658.9 296.4 L659.8 296.5 L660.8 296.6 L661.8 296.7 L662.8 296.8 L663.8 296.9 L664.8 297.0 L665.8 297.1 L666.8 297.1 L667.8 297.2 L668.8 297.3 L669.8 297.3 L670.8 297.4 L671.8 297.4 L672.8 297.5 L673.8 297.5 L674.8 297.6 L675.8 297.6 L676.8 297.6 L677.8 297.7 L678.8 297.7 L679.9 297.7 L680.9 297.7 L681.9 297.7 L682.9 297.8 L683.9 297.8 L684.9 297.8 L685.9 297.8 L686.9 297.8 L687.9 297.8 L688.9 297.8 L689.9 297.8 L690.9 297.8 L691.9 297.8 L692.9 297.8 L693.9 297.8 L694.9 297.8 L695.9 297.8 L696.9 297.8 L697.9 297.8 L698.9 297.8 L699.9 297.8 L700.9 297.8 L701.9 297.8 L702.9 297.8 L703.9 297.8 L704.9 297.8 L705.9 297.8 L706.9 297.8 L707.9 297.8 L708.9 297.8 L709.9 297.8 L710.9 297.8 L711.9 297.8 L712.9 297.8 L713.9 297.8 L714.9 297.8 L715.9 297.8 L716.9 297.8 L717.9 297.8 L718.9 297.9 L719.9 297.9 L720.9 297.9 L721.9 297.9 L722.9 297.9 L723.9 297.9 L724.9 297.9 L725.9 297.9 L726.9 297.9 L727.9 297.9 L729.0 297.9 L730.0 297.9 L731.0 297.9 L732.0 297.9 L733.0 297.9 L734.0 297.9 L735.0 297.9 L736.0 297.9 L737.0 297.9 L738.0 297.9 L739.0 297.9 L740.0 297.9 L741.0 297.9 L742.0 297.9 L743.0 298.0 L744.0 298.0 L745.0 298.0 L746.0 298.0 L747.0 298.0 L748.0 298.0 L749.0 298.0 L750.0 298.0 L751.0 298.0 L752.0 298.0 L753.0 298.0 L754.0 298.0 L755.0 298.0 L756.0 298.0 L757.0 298.0 L758.0 298.0 L759.0 298.0 L760.0 298.0 L761.0 298.0 L762.0 298.0 L763.0 298.0 L764.0 298.0 L765.0 298.1 L766.0 298.1 L767.0 298.1 L768.0 298.1 L769.0 298.1 L770.0 298.1 L771.0 298.1 L772.0 298.1 L773.0 298.1 L774.0 298.1 L775.0 298.1 L776.0 298.1 L777.1 298.1 L778.1 298.1 L779.1 298.1 L780.1 298.1 L781.1 298.1 L782.1 298.1 L783.1 298.1 L784.1 298.1 L785.1 298.1 L786.1 298.1 L787.1 298.1 L788.1 298.1 L789.1 298.1 L790.1 298.1 L791.1 298.1 L792.1 298.1 L793.1 298.1 L794.1 298.1 L795.1 298.1 L796.1 298.1 L797.1 298.1 L798.1 298.0 L799.1 298.0 L800.1 298.0 L801.1 298.0 L802.1 298.0 L803.1 298.0 L804.1 298.0 L805.1 298.0 L806.1 298.0 L807.1 298.0 L808.1 298.0 L809.1 298.0 L810.1 298.0 L811.1 298.0 L812.1 297.9 L813.1 297.9 L814.1 297.9 L815.1 297.9 L816.1 297.9 L817.1 297.9 L818.1 297.9 L819.1 297.9" stroke="#0000ff" stroke-width="4.2" stroke-dasharray="1.8 2.825" stroke-dashoffset="-1.0"/>
</g>
<path d="M105.1 50.4 H136.8" stroke="#000" stroke-width="2.9"/>
<path d="M105 77.5 H110 M114.2 77.5 H119.3 M121 77.5 H126 M130 77.5 H134.9 M136.1 77.5 H137" stroke="#ff0000" stroke-width="2.6"/>
<path d="M105.2 105 h1.7 M109.8 105 h1.7 M114.4 105 h1.7 M119.2 105 h3.5 M125.6 105 h1.7 M130.1 105 h1.7 M135 105 h2" stroke="#0000ff" stroke-width="2.6"/>
<text x="142.5" y="57.6" style="fill:#000;stroke:#000;font-size:19px">q=0.01<tspan dx="8.3">GeV</tspan><tspan font-size="13.6" font-weight="normal" style="stroke-width:0.6px" dx="0.6" dy="-10.5">2</tspan><tspan dx="-0.7" dy="10.5" font-weight="normal" font-size="20" style="stroke-width:0.15px">/</tspan><tspan dx="0.1">fm</tspan></text>
<path d="M145.4 45.8 l3 -2.6 l3 2.6" stroke="#000" stroke-width="1.3" fill="none"/>
<text x="142.5" y="84.6" style="fill:#ff0000;stroke:#ff0000;font-size:19px">q=0.05<tspan dx="8.3">GeV</tspan><tspan font-size="13.6" font-weight="normal" style="stroke-width:0.6px" dx="0.6" dy="-10.5">2</tspan><tspan dx="-0.7" dy="10.5" font-weight="normal" font-size="20" style="stroke-width:0.15px">/</tspan><tspan dx="0.1">fm</tspan></text>
<path d="M145.4 72.8 l3 -2.6 l3 2.6" stroke="#ff0000" stroke-width="1.3" fill="none"/>
<text x="142.5" y="112.2" style="fill:#0000ff;stroke:#0000ff;font-size:19px">q=0.1<tspan dx="8.3">GeV</tspan><tspan font-size="13.6" font-weight="normal" style="stroke-width:0.6px" dx="0.6" dy="-10.5">2</tspan><tspan dx="-0.7" dy="10.5" font-weight="normal" font-size="20" style="stroke-width:0.15px">/</tspan><tspan dx="0.1">fm</tspan></text>
<path d="M145.4 100.4 l3 -2.6 l3 2.6" stroke="#0000ff" stroke-width="1.3" fill="none"/>
<text x="123.9" y="12.8">Ratio<tspan font-size="13.6" dy="6.3" dx="0.3">g</tspan><tspan dy="-6.3" dx="0.8">(z)</tspan></text>
<text x="327.8" y="12.7">Ratio<tspan font-size="13.6" dy="6.3" dx="0.3">d</tspan><tspan dy="-6.3" dx="0.8">(z), Ratio</tspan><tspan font-size="13.6" dy="6.3" dx="0.3">u</tspan><tspan dy="-6.3" dx="0.8">(z)</tspan></text>
<path d="M377.3 7.3 H385.6" stroke="#000" stroke-width="1.2"/>
<text x="647.8" y="12.7">Ratio<tspan font-size="13.6" dy="6.3" dx="0.3">s</tspan><tspan dy="-6.3" dx="0.8">(z)</tspan></text>
<text x="372.4" y="63.0">Q<tspan font-size="13.6" font-weight="normal" style="stroke-width:0.6px" dx="0.4" dy="-11.0">2</tspan><tspan dy="11.0" dx="1.2">=10.0 GeV</tspan><tspan font-size="13.6" font-weight="normal" style="stroke-width:0.6px" dx="0.8" dy="-11.0">2</tspan></text>
<text x="451.8" y="94.2">HKN</text>
<text x="505.2" y="94.3" class="sy" style="font-size:22.5px;stroke-width:0.25px">π</text>
<text x="517" y="86" style="font-size:12px">+</text>
<text x="661.0" y="63.3" style="font-size:19.6px">E=10.0 GeV</text>
<text x="661.0" y="94.9" style="font-size:19.6px">L=5.0 fm</text>
<text x="26.4" y="57.4" text-anchor="end" style="font-size:19.7px">1.0</text>
<text x="26.4" y="106.9" text-anchor="end" style="font-size:19.7px">0.6</text>
<text x="26.4" y="156.5" text-anchor="end" style="font-size:19.7px">0.8</text>
<text x="26.4" y="206.1" text-anchor="end" style="font-size:19.7px">0.4</text>
<text x="26.4" y="255.7" text-anchor="end" style="font-size:19.7px">0.2</text>
<text x="26.4" y="305.3" text-anchor="end" style="font-size:19.7px">0.0</text>
<text x="26.1" y="323.1" text-anchor="middle" style="font-size:19.6px">0.0</text>
<text x="163.6" y="323.1" text-anchor="middle" style="font-size:19.6px">0.5</text>
<text x="293.6" y="323.1" text-anchor="middle" style="font-size:19.6px">1.0</text>
<text x="425.5" y="323.1" text-anchor="middle" style="font-size:19.6px">0.5</text>
<text x="556.0" y="323.1" text-anchor="middle" style="font-size:19.6px">1.0</text>
<text x="687.6" y="323.1" text-anchor="middle" style="font-size:19.6px">0.5</text>
<text x="817.8" y="323.1" text-anchor="middle" style="font-size:19.6px">1.0</text>
<text x="293.3" y="339.3" text-anchor="end" style="font-size:25px">z</text>
<text x="554.5" y="339.3" text-anchor="end" style="font-size:25px">z</text>
<text x="817.0" y="339.3" text-anchor="end" style="font-size:25px">z</text>
</svg>
</body></html>
